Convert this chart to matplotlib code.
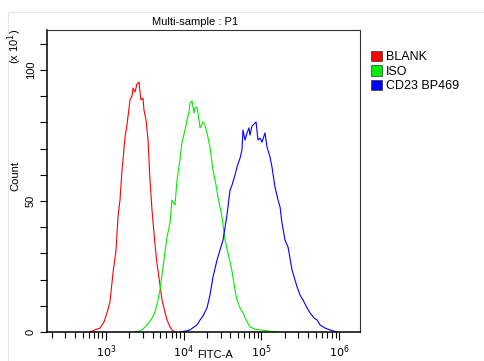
import numpy as np
import matplotlib
matplotlib.use('Agg')
from matplotlib import pyplot as plt
from matplotlib.patches import Patch, Rectangle

plt.rcParams['font.family'] = ['Liberation Sans', 'DejaVu Sans']

# histogram outlines, x given as log10(FITC-A), y as count (x 10)
blank_log = [2.794, 2.858, 2.923, 2.974, 3.013, 3.051, 3.090, 3.129, 3.154, 3.180,
             3.206, 3.245, 3.270, 3.309, 3.335, 3.347, 3.373, 3.399, 3.425, 3.438,
             3.450, 3.476, 3.489, 3.515, 3.541, 3.566, 3.592, 3.605, 3.631, 3.656,
             3.695, 3.721, 3.759, 3.785, 3.824, 3.849, 3.888]
blank_cnt = [0, 0.8, 1.5, 3.8, 7.3, 11.5, 22.5, 31.3, 43.9, 50.4,
             61.8, 74.4, 79.0, 88.6, 90.1, 93.1, 91.6, 94.7, 95.4, 91.6,
             88.6, 89.3, 84.7, 80.9, 73.3, 58.0, 46.6, 42.0, 33.2, 26.3,
             17.9, 12.2, 7.6, 4.6, 1.9, 0.8, 0]

iso_log = [3.373, 3.438, 3.476, 3.541, 3.592, 3.631, 3.669, 3.695, 3.734, 3.759,
           3.785, 3.824, 3.849, 3.888, 3.914, 3.952, 3.978, 4.017, 4.042, 4.068,
           4.081, 4.107, 4.133, 4.145, 4.171, 4.197, 4.210, 4.248, 4.274, 4.300,
           4.338, 4.377, 4.416, 4.441, 4.493, 4.532, 4.570, 4.609, 4.634, 4.660,
           4.686, 4.725, 4.763, 4.802, 4.853, 4.918, 4.982, 5.085, 5.201]
iso_cnt = [0, 0.4, 1.1, 3.1, 5.3, 7.6, 12.2, 16.0, 24.8, 30.5,
           36.3, 41.6, 50.4, 48.5, 58.0, 65.7, 72.5, 77.1, 80.9, 84.0,
           87.4, 88.2, 83.6, 85.5, 85.9, 80.9, 77.9, 80.2, 79.0, 76.0,
           70.6, 61.8, 56.1, 51.5, 43.9, 35.1, 30.2, 25.2, 21.0, 16.0,
           12.2, 9.2, 7.3, 4.6, 1.9, 1.1, 0.8, 0.4, 0]

cd23_log = [3.952, 4.030, 4.081, 4.133, 4.171, 4.210, 4.248, 4.300, 4.338, 4.377,
            4.429, 4.467, 4.506, 4.557, 4.596, 4.622, 4.660, 4.686, 4.725, 4.750,
            4.763, 4.789, 4.815, 4.840, 4.853, 4.879, 4.905, 4.931, 4.956, 4.982,
            5.008, 5.033, 5.046, 5.072, 5.111, 5.136, 5.175, 5.214, 5.240, 5.265,
            5.304, 5.343, 5.394, 5.433, 5.459, 5.497, 5.536, 5.587, 5.626, 5.678,
            5.716, 5.755, 5.819, 5.883, 5.973]
cd23_cnt = [0, 0.4, 0.8, 1.9, 2.7, 4.6, 6.1, 9.2, 14.1, 21.0,
            27.5, 31.3, 35.1, 44.7, 54.2, 56.1, 59.9, 63.0, 66.4, 69.5,
            77.1, 73.3, 76.0, 77.9, 75.2, 78.6, 79.4, 80.2, 73.3, 74.0,
            72.5, 74.8, 76.0, 70.6, 66.8, 63.0, 55.3, 50.4, 47.7, 41.6,
            35.1, 32.4, 23.7, 19.8, 17.2, 14.1, 12.2, 9.2, 7.3, 5.3,
            4.6, 2.7, 1.5, 0.8, 0]

labels = ['BLANK', 'ISO', 'CD23 BP469']
colors = ['#ff0000', '#00ee00', '#0000ff']

fig = plt.figure(figsize=(4.85, 3.61), dpi=100)
fig.patches.append(Rectangle((0.0165, -0.05), 1.1, 0.967 + 0.05, transform=fig.transFigure,
                             fill=False, edgecolor='#e6e6e6', lw=0.8))
ax = fig.add_axes([0.0969, 0.0803, 0.6454, 0.8366])

for xs, ys, c in zip([blank_log, iso_log, cd23_log], [blank_cnt, iso_cnt, cd23_cnt], colors):
    ax.plot(10 ** np.array(xs), ys, color=c, lw=0.8)

ax.set_xscale('log')
ax.set_xlim(10 ** 2.2407, 10 ** 6.269)
ax.set_ylim(0, 115.3)
ax.set_xticks([1e3, 1e4, 1e5, 1e6])
ax.set_xticklabels([r'$10^{3}$', r'$10^{4}$', r'$10^{5}$', r'$10^{6}$'])
ax.set_yticks([0, 50, 100])
ax.set_yticks(np.arange(0, 115, 10), minor=True)
ax.tick_params(axis='both', which='both', direction='out', labelsize=8, width=0.8)
ax.tick_params(axis='x', which='major', length=6, pad=2)
ax.tick_params(axis='x', which='minor', length=4)
ax.tick_params(axis='y', which='both', length=5)
ax.tick_params(axis='y', labelrotation=90, pad=3)
for lab in ax.get_yticklabels():
    lab.set_va('center')

for s in ['left', 'bottom']:
    ax.spines[s].set_linewidth(1.1)
for s in ['top', 'right']:
    ax.spines[s].set_linewidth(0.8)
    ax.spines[s].set_color('#333333')

fig.text(195 / 485, 1 - 22 / 361, 'Multi-sample : P1', ha='center', va='center', fontsize=8)
fig.text(15 / 485, 1 - 176 / 361, 'Count', rotation=90, ha='center', va='center', fontsize=8)
fig.text(15 / 485, 1 - 46 / 361, r'(x 10$^{1}$)', rotation=90, ha='center', va='center', fontsize=8)
fig.text(215 / 485, 1 / 361, 'FITC-A', ha='center', va='bottom', fontsize=8)

handles = [Patch(facecolor=c, edgecolor='#333333', lw=0.5) for c in colors]
fig.legend(handles, labels, loc='upper left', bbox_to_anchor=(366 / 485, 1 - 46 / 361),
           frameon=False, fontsize=9, handlelength=0.9, handleheight=0.9,
           handletextpad=0.3, labelspacing=0.15, borderaxespad=0)

fig.savefig('out.png', dpi=100)
